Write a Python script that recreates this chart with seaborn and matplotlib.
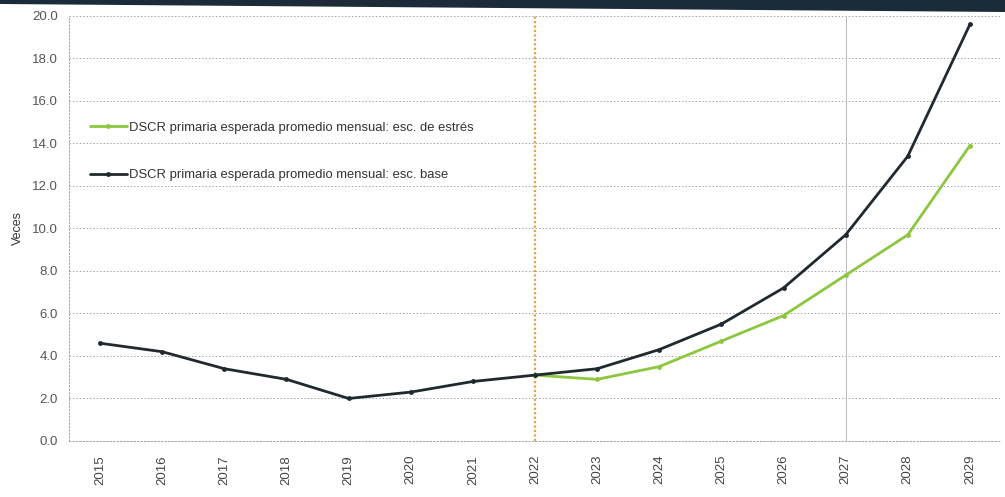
"""
DSCR primaria esperada promedio mensual: escenario base vs. estrés
"""
import matplotlib
matplotlib.use("Agg")
import matplotlib.pyplot as plt
import numpy as np
import pandas as pd
import seaborn as sns
from matplotlib.patches import Polygon

years = list(range(2015, 2030))
dscr_base = [4.6, 4.2, 3.4, 2.9, 2.0, 2.3, 2.8, 3.1, 3.4, 4.3, 5.5, 7.2, 9.7, 13.4, 19.6]
dscr_estres = [np.nan] * 7 + [3.1, 2.9, 3.5, 4.7, 5.9, 7.8, 9.7, 13.9]

LBL_ESTRES = "DSCR primaria esperada promedio mensual: esc. de estrés"
LBL_BASE = "DSCR primaria esperada promedio mensual: esc. base"
y_ticks = np.arange(0, 20.1, 2.0)

df = pd.DataFrame({"anio": years, LBL_ESTRES: dscr_estres, LBL_BASE: dscr_base})
long = df.melt(id_vars="anio", var_name="serie", value_name="veces").dropna()

sns.set_style("white")
plt.rcParams["font.family"] = ["Liberation Sans Narrow", "Liberation Sans", "DejaVu Sans"]

fig = plt.figure(figsize=(10.05, 4.97), dpi=100)
ax = fig.add_axes([0.0687, 0.1127, 0.9273, 0.8553])

# franja oscura del encabezado (escaneo)
fig.patches.append(Polygon([(0, 1), (1, 1), (1, 1 - 12 / 497), (0, 1 - 4 / 497)],
                           closed=True, transform=fig.transFigure,
                           facecolor="#1b2b3a", edgecolor="none"))

sns.lineplot(data=long, x="anio", y="veces", hue="serie",
             hue_order=[LBL_ESTRES, LBL_BASE],
             palette={LBL_ESTRES: "#8dc63f", LBL_BASE: "#1f2a30"},
             marker="o", markersize=3.5, markeredgewidth=0, linewidth=2.0,
             ax=ax, zorder=3)

ax.axvline(2022, color="#e8a04a", linestyle=(0, (1, 1)), linewidth=1.6, zorder=2)
ax.axvline(2027, color="#bdbdbd", linewidth=0.7, zorder=1)

ax.set_xlim(2014.5, 2029.5)
ax.set_ylim(0, 20)
ax.set_yticks(y_ticks)
ax.set_yticklabels([f"{v:.1f}" for v in y_ticks], fontsize=9.5, color="#555555")
ax.set_xticks(years)
ax.set_xticklabels([str(y) for y in years], rotation=90, fontsize=9.5, color="#444444")
ax.tick_params(axis="y", length=3, color="#aaaaaa", pad=5)
ax.tick_params(axis="x", length=0, pad=10)

ax.grid(axis="y", color="#a5a5a5", linestyle=(0, (1.5, 2)), linewidth=0.7)
for side in ["top", "right"]:
    ax.spines[side].set_visible(False)
for side in ["left", "bottom"]:
    ax.spines[side].set_color("#a5a5a5")
    ax.spines[side].set_linestyle((0, (1.5, 2)))
    ax.spines[side].set_linewidth(0.7)

ax.set_xlabel("")
ax.set_ylabel("Veces", fontsize=9, color="#333333", labelpad=6)

leg = ax.legend(loc="center left", bbox_to_anchor=(0.0225, 0.681), frameon=False,
                fontsize=9.4, labelspacing=2.7, handlelength=2.8, handletextpad=0.2,
                borderpad=0, borderaxespad=0)
for t in leg.get_texts():
    t.set_color("#333333")

fig.savefig("out.png", dpi=100)
